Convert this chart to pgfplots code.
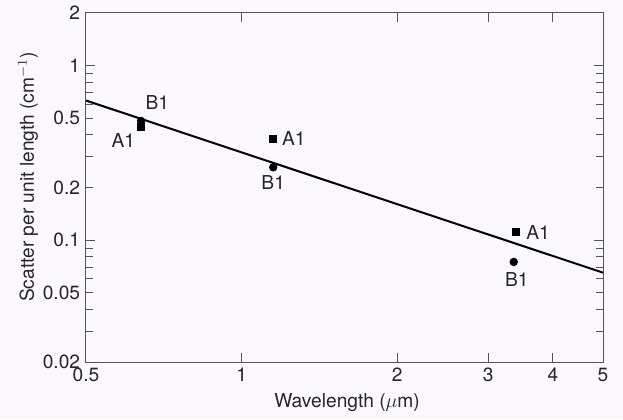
\documentclass[border=0pt]{standalone}
\usepackage{pgfplots}
\pgfplotsset{compat=1.18}
\usepackage{fontspec}
\setmainfont{TeX Gyre Heros}
\definecolor{bg}{RGB}{250,248,252}
\definecolor{axc}{RGB}{85,85,85}
\begin{document}
\begin{tikzpicture}
\fill[bg] (-51.6pt,-34.2pt) rectangle (322.2pt,217.2pt);
\begin{axis}[
  at={(0,0)}, anchor=south west,
  xmode=log, ymode=log, scale only axis,
  width=310.2pt, height=209.4pt,
  xmin=0.5, xmax=5, ymin=0.02, ymax=2,
  xtick={0.5,1,2,3,4,5}, xticklabels={0.5,1,2,3,4,5},
  ytick={0.1,1}, yticklabels={0.1,1},
  extra y ticks={0.02,0.05,0.2,0.5,2},
  extra y tick labels={0.02,0.05,0.2,0.5,2},
  extra y tick style={major tick length=4.2pt},
  minor ytick={0.03,0.04,0.06,0.07,0.08,0.09,0.3,0.4,0.6,0.7,0.8,0.9},
  minor tick length=4.2pt, major tick length=5.5pt,
  tick align=inside,
  axis line style={axc, line width=0.6pt},
  tick style={axc, line width=0.6pt},
  /pgf/number format/assume math mode=true,
  ticklabel style={font=\fontsize{11.5}{13}\selectfont, text=black!85},
  label style={font=\fontsize{11.5}{13}\selectfont, text=black!85},
  xlabel={Wavelength ($\mu$m)},
  ylabel={Scatter per unit length (cm$^{-1}$)},
  xlabel style={at={(axis description cs:0.505,-0.117)}, anchor=center},
  ylabel style={at={(axis description cs:-0.112,0.53)}, anchor=center},
  clip=false,
]
\addplot[black, line width=1.2pt] coordinates {(0.5,0.63) (5,0.065)};
\addplot[only marks, mark=square*, mark size=2.1pt, black] coordinates {(0.639,0.444) (1.151,0.381) (3.39,0.111)};
\addplot[only marks, mark=*, mark size=2.3pt, black] coordinates {(0.639,0.481) (1.151,0.261) (3.36,0.0749)};
\begin{scope}[font=\fontsize{11.5}{13}\selectfont, text=black!85]
\node at ([shift={(9.8pt,10.8pt)}]axis cs:0.639,0.481) {B1};
\node at ([shift={(-10.6pt,-7.8pt)}]axis cs:0.639,0.444) {A1};
\node at ([shift={(12.4pt,0pt)}]axis cs:1.151,0.381) {A1};
\node at ([shift={(0pt,-9.4pt)}]axis cs:1.151,0.261) {B1};
\node at ([shift={(13.4pt,0pt)}]axis cs:3.39,0.111) {A1};
\node at ([shift={(1.8pt,-10.8pt)}]axis cs:3.36,0.0749) {B1};
\end{scope}
\end{axis}
\end{tikzpicture}
\end{document}
